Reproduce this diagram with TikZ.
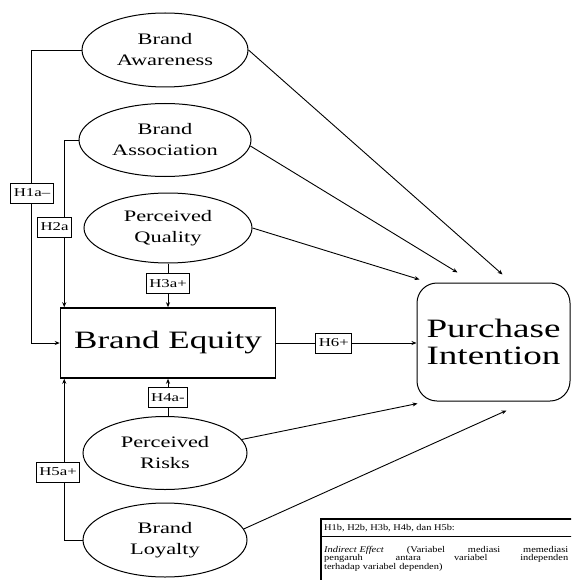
\documentclass[tikz,border=0pt]{standalone}
\usepackage{fontspec}
\setmainfont{Liberation Serif}
\newfontfamily\tms[FakeStretch=1.4]{Liberation Serif}
\newfontfamily\tmsb[FakeStretch=1.18]{Liberation Serif}
\usetikzlibrary{shapes.geometric,arrows.meta}
\begin{document}
\begin{tikzpicture}[x=1pt,y=-1pt,
  ell/.style={ellipse,draw,line width=1pt,inner sep=0pt,align=center,font=\tms\fontsize{16}{21}\selectfont},
  hbox/.style={draw,fill=white,line width=0.8pt,inner xsep=3pt,inner ysep=0pt,minimum height=20pt,font=\tms\fontsize{12}{14}\selectfont},
  arr/.style={-{Stealth[length=5pt,width=4pt]},line width=0.9pt},
  small/.style={font=\tmsb\fontsize{8.8}{8.8}\selectfont,inner sep=0pt}]
\useasboundingbox (0,0) rectangle (571,580);
\clip (0,0) rectangle (571,580);

% nodes
\node[ell,minimum width=166pt,minimum height=74pt] (ba) at (165,50) {Brand\\Awareness};
\node[ell,minimum width=172pt,minimum height=73pt] (bas) at (165,140) {Brand\\Association};
\node[ell,minimum width=168pt,minimum height=70pt] (pq) at (168,228) {Perceived\\Quality};
\node[draw,line width=1.5pt,minimum width=215pt,minimum height=70pt,inner sep=0pt,font=\tms\fontsize{25}{28}\selectfont] (be) at (168,343) {Brand Equity};
\node[ell,minimum width=164pt,minimum height=73pt] (pr) at (165,453) {Perceived\\Risks};
\node[ell,minimum width=164pt,minimum height=74pt] (bl) at (165,540) {Brand\\Loyalty};
\node[draw,rounded corners=20pt,line width=1pt,minimum width=153pt,minimum height=118pt,inner sep=0pt,align=center,font=\tms\fontsize{26.5}{27}\selectfont] (pi) at (493.5,342) {Purchase\\Intention};

% hypothesis paths to Brand Equity
\draw[arr] (ba.west) -| ([xshift=-28.5pt]be.west) -- (be.west);
\node[hbox] (h1) at (32,193) {H1a–};
\draw[arr] (bas.west) -| ([xshift=4.5pt]be.north west);
\node[hbox] (h2) at (54.5,227) {H2a};
\draw[arr] (pq.south) -- node[hbox,pos=0.46] (h3) {H3a+} (be.north);
\draw[arr] (be.south |- pr.north) -- node[hbox] (h4) {H4a-} (be.south);
\draw[arr] (bl.west) -| ([xshift=4.5pt]be.south west);
\node[hbox] (h5) at (58,472) {H5a+};
\draw[arr] (be.east) -- node[hbox,pos=0.41] (h6) {H6+} (pi.west |- be.east);

% paths to Purchase Intention
\coordinate (t1) at ([shift={(86,-8)}]pi.north west);
\coordinate (t2) at ([shift={(41,-10)}]pi.north west);
\coordinate (t3) at ([shift={(3,-3)}]pi.north west);
\coordinate (t4) at ([shift={(1,2)}]pi.south west);
\coordinate (t5) at ([shift={(90,9)}]pi.south west);
\draw[arr] (ba.east) -- (t1);
\draw[arr] (bas.-4) -- (t2);
\draw[arr] (pq.east) -- (t3);
\draw[arr] (pr.10) -- (t4);
\draw[arr] (bl.8) -- (t5);

% note box
\draw[line width=1.5pt] (321,590) -- (321,519) -- (590,519);
\draw[line width=0.8pt] (321,536) -- (590,536);
\node[small,anchor=base west] (n1) at (324,530.5) {H1b, H2b, H3b, H4b, dan H5b:};
\node[small,anchor=north west,text width=244pt,align=left] (n2) at (324,545.6)
  {\makebox[244pt][l]{\textit{Indirect Effect}\hfill(Variabel\hfill mediasi\hfill memediasi}\\
   \makebox[244pt][l]{pengaruh\hfill antara\hfill variabel\hfill independen}\\
   terhadap variabel dependen)};
\end{tikzpicture}
\end{document}
